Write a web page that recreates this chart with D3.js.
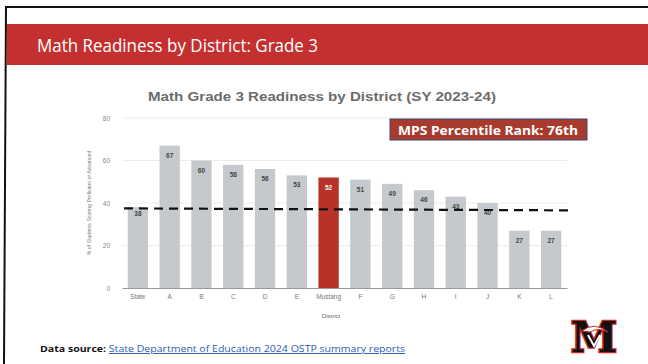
<!DOCTYPE html>
<html><head><meta charset="utf-8">
<script src="https://cdn.jsdelivr.net/npm/d3@7"></script>
<style>body{margin:0;background:#fff;}svg{display:block;}</style>
</head><body>
<script>
const categories = ["State","A","B","C","D","E","Mustang","F","G","H","I","J","K","L"];
const values = [38,67,60,58,56,53,52,51,49,46,43,40,27,27];
const highlight = "Mustang";
const stateLine = 37;
const yTicks = [0,20,40,60,80];
const pageTitle = "Math Readiness by District: Grade 3";
const chartTitle = "Math Grade 3 Readiness by District (SY 2023-24)";
const rankLabel = "MPS Percentile Rank: 76th";
const xTitle = "District";
const yTitle = "% of Students Scoring Proficient or Advanced";

const W=648,H=364;
const svg=d3.select("body").append("svg").attr("width",W).attr("height",H);
svg.append("rect").attr("width",W).attr("height",H).attr("fill","#fff");

// frame
svg.append("line").attr("x1",5).attr("x2",W).attr("y1",7).attr("y2",7).attr("stroke","#111").attr("stroke-width",2);
svg.append("line").attr("x1",6).attr("x2",4).attr("y1",7).attr("y2",H).attr("stroke","#111").attr("stroke-width",2);

// banner
svg.append("rect").attr("x",7).attr("y",24).attr("width",W-7).attr("height",41).attr("fill","#c4302f");
svg.append("text").attr("x",37).attr("y",52).attr("fill","#fff").attr("font-family","Open Sans, sans-serif")
  .attr("font-size",18).attr("textLength",281).attr("lengthAdjust","spacingAndGlyphs").text(pageTitle);

// chart title
svg.append("text").attr("x",322).attr("y",101).attr("text-anchor","middle").attr("fill","#6b6b6b")
  .attr("font-family","Liberation Sans, Arial, sans-serif").attr("font-weight","bold").attr("font-size",12)
  .attr("textLength",348).attr("lengthAdjust","spacingAndGlyphs").text(chartTitle);

const x=d3.scaleBand().domain(categories).range([122,567]).paddingInner(0.36).paddingOuter(0.18);
const y=d3.scaleLinear().domain([0,80]).range([288,118]);

// gridlines
svg.append("g").selectAll("line").data(yTicks.filter(d=>d>0)).join("line")
  .attr("x1",122).attr("x2",567).attr("y1",d=>y(d)).attr("y2",d=>y(d)).attr("stroke","#ececec").attr("stroke-width",1);

// y axis
const ya=svg.append("g").attr("transform","translate(122,0)").call(d3.axisLeft(y).tickValues(yTicks).tickSize(0).tickPadding(12));
ya.select(".domain").remove();
ya.selectAll("text").attr("fill","#888").attr("font-size",6.5).attr("font-family","Liberation Sans, Arial, sans-serif");

// bars
svg.append("g").selectAll("rect").data(categories).join("rect")
  .attr("x",d=>x(d)).attr("width",x.bandwidth())
  .attr("y",(d,i)=>y(values[i])).attr("height",(d,i)=>y(0)-y(values[i]))
  .attr("fill",d=>d===highlight?"#b8322a":"#c5c9cd");

// x axis
const xa=svg.append("g").attr("transform","translate(0,288)").call(d3.axisBottom(x).tickSize(0).tickPadding(6));
xa.select(".domain").attr("stroke","#999");
xa.selectAll("text").attr("fill","#777").attr("font-size",6.5).attr("font-family","Liberation Sans, Arial, sans-serif");

// value labels
svg.append("g").selectAll("text").data(categories).join("text")
  .attr("x",d=>x(d)+x.bandwidth()/2).attr("y",(d,i)=>y(values[i])+(d==="State"?9:12))
  .attr("text-anchor","middle").attr("font-size",6.5).attr("font-weight","bold")
  .attr("font-family","Liberation Sans, Arial, sans-serif")
  .attr("fill",d=>d===highlight?"#fff":"#444").text((d,i)=>values[i]);

// state dashed line
svg.append("line").attr("x1",124).attr("x2",572).attr("y1",y(stateLine)-1).attr("y2",y(stateLine)+1)
  .attr("stroke","#111").attr("stroke-width",2.2).attr("stroke-dasharray","9,6");

// rank box
svg.append("rect").attr("x",390).attr("y",119).attr("width",197).attr("height",21)
  .attr("fill","#a83a2e").attr("stroke","#3a4a7a").attr("stroke-width",1);
svg.append("text").attr("x",488).attr("y",134.5).attr("text-anchor","middle").attr("fill","#fff")
  .attr("font-family","Open Sans, sans-serif").attr("font-weight","bold").attr("font-size",12.5)
  .attr("textLength",180).attr("lengthAdjust","spacingAndGlyphs").text(rankLabel);

// axis titles
svg.append("text").attr("x",331).attr("y",318).attr("text-anchor","middle").attr("fill","#666")
  .attr("font-size",6).attr("font-family","Liberation Sans, Arial, sans-serif").text(xTitle);
svg.append("text").attr("transform","translate(91,203) rotate(-90)").attr("text-anchor","middle").attr("fill","#777")
  .attr("font-size",5.2).attr("font-family","Liberation Sans, Arial, sans-serif").text(yTitle);

// data source
const ds=svg.append("text").attr("x",40).attr("y",352).attr("font-family","Open Sans, sans-serif").attr("font-size",9.5)
  .attr("textLength",365).attr("lengthAdjust","spacingAndGlyphs");
ds.append("tspan").attr("font-weight","bold").attr("fill","#111").text("Data source: ");
ds.append("tspan").attr("fill","#2a5db0").attr("text-decoration","underline").text("State Department of Education 2024 OSTP summary reports");

// logo
const lg=svg.append("g").attr("transform","translate(594,335)");
lg.append("text").attr("text-anchor","middle").attr("y",17).attr("font-family","DejaVu Serif, serif").attr("font-weight","bold")
  .attr("font-size",42).attr("fill","#111").attr("stroke","#c62828").attr("stroke-width",2.5).attr("paint-order","stroke").text("M");
lg.append("path").attr("d","M-12,-4 Q0,-14 14,-3 Q4,-8 -4,-3 Z").attr("fill","#fff").attr("stroke","#c62828").attr("stroke-width",1);
lg.append("path").attr("d","M-6,0 L0,11 L6,0").attr("fill","none").attr("stroke","#fff").attr("stroke-width",2);
</script>
</body></html>
